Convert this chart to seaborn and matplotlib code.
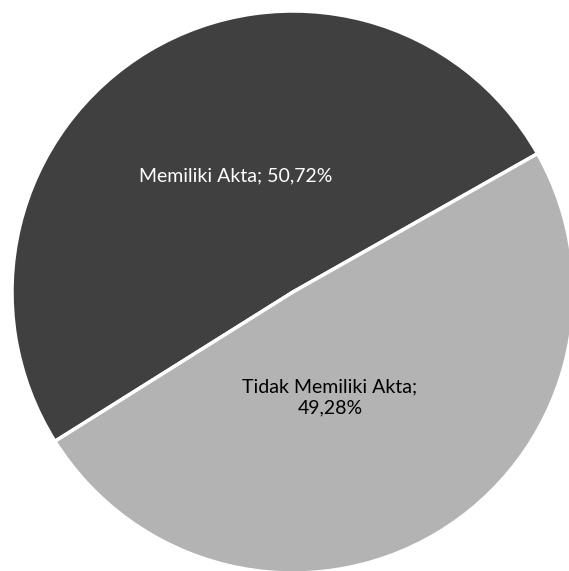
import seaborn as sns
import matplotlib.pyplot as plt

# data
categories = ["Memiliki Akta", "Tidak Memiliki Akta"]
percentages = [50.72, 49.28]
label_texts = ["Memiliki Akta; 50,72%", "Tidak Memiliki Akta;\n49,28%"]
slice_colors = ["#404040", "#b3b3b3"]
text_colors = ["white", "black"]

sns.set_theme(style="white")
plt.rcParams["font.family"] = ["Lato", "DejaVu Sans"]

W, H = 569, 571
fig = plt.figure(figsize=(W / 100, H / 100), dpi=100)
ax = fig.add_axes([0, 0, 1, 1])

wedges, _ = ax.pie(
    percentages,
    colors=slice_colors,
    startangle=29.5,
    counterclock=True,
    center=(293, H - 292),
    radius=281,
    wedgeprops={"edgecolor": "white", "linewidth": 2.5},
    frame=True,
)
ax.set_xlim(0, W)
ax.set_ylim(0, H)
ax.set_aspect("equal")
ax.axis("off")

# label positions (pixel coords, Excel-style placement)
label_pos = [(236, H - 176), (330, H - 397)]
for txt, (x, y), c in zip(label_texts, label_pos, text_colors):
    ax.text(x, y, txt, ha="center", va="center", color=c, fontsize=14,
            linespacing=1.3)

fig.savefig("out.png", dpi=100)
